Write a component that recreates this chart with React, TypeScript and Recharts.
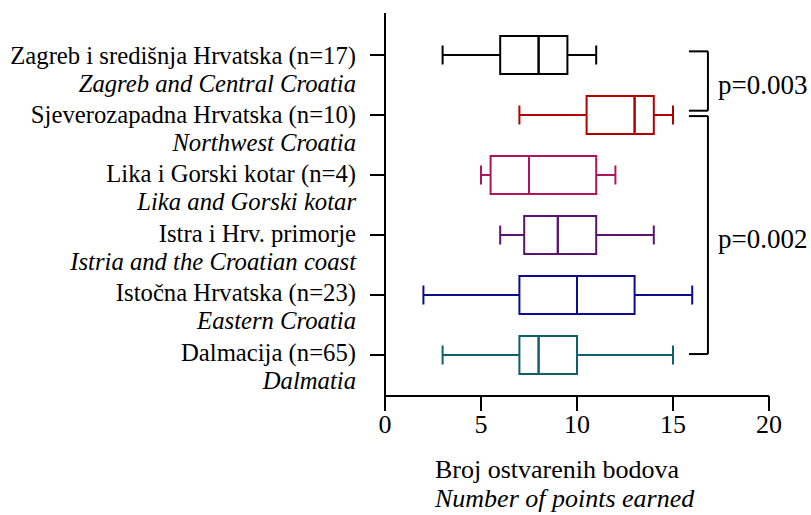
import { Bar, ComposedChart, ReferenceLine, XAxis, YAxis } from 'recharts';

const regions = [
  'Zagreb i središnja Hrvatska (n=17)',
  'Sjeverozapadna Hrvatska (n=10)',
  'Lika i Gorski kotar (n=4)',
  'Istra i Hrv. primorje',
  'Istočna Hrvatska (n=23)',
  'Dalmacija (n=65)',
];
const regionsEn = [
  'Zagreb and Central Croatia',
  'Northwest Croatia',
  'Lika and Gorski kotar',
  'Istria and the Croatian coast',
  'Eastern Croatia',
  'Dalmatia',
];
const mins = [3, 7, 5, 6, 2, 3];
const q1s = [6, 10.5, 5.5, 7.25, 7, 7];
const medians = [8, 13, 7.5, 9, 10, 8];
const q3s = [9.5, 14, 11, 11, 13, 10];
const maxs = [11, 15, 12, 14, 16, 15];
const colors = ['#000000', '#b30000', '#b0155c', '#5a1470', '#0c0c8c', '#0f5f6c'];
const xTicks = [0, 5, 10, 15, 20];

// brackets in data units (x, and y as row position 1..6), with p-value text
const brackets = [
  { x0: 15.83, x1: 16.82, y0: 0.94, y1: 1.93, p: 'p=0.003', py: 1.49 },
  { x0: 15.83, x1: 16.82, y0: 2.02, y1: 5.99, p: 'p=0.002', py: 4.07 },
];

const FONT = '"Liberation Serif", "Times New Roman", serif';

const rows = regions.map((label, i) => ({
  label,
  pos: i + 1,
  color: colors[i],
  base: mins[i],
  lw: q1s[i] - mins[i],
  b1: medians[i] - q1s[i],
  b2: q3s[i] - medians[i],
  rw: maxs[i] - q3s[i],
}));

const LeftWhisker = (props: any) => {
  const { x, y, width, height, payload } = props;
  const cy = y + height / 2;
  return (
    <g stroke={payload.color} strokeWidth={2}>
      <line x1={x} x2={x + width} y1={cy} y2={cy} />
      <line x1={x} x2={x} y1={cy - 9.5} y2={cy + 9.5} />
    </g>
  );
};

const RightWhisker = (props: any) => {
  const { x, y, width, height, payload } = props;
  const cy = y + height / 2;
  return (
    <g stroke={payload.color} strokeWidth={2}>
      <line x1={x} x2={x + width} y1={cy} y2={cy} />
      <line x1={x + width} x2={x + width} y1={cy - 9.5} y2={cy + 9.5} />
    </g>
  );
};

const BoxPart = (props: any) => {
  const { x, y, width, height, payload } = props;
  return <rect x={x} y={y} width={width} height={height} fill="none" stroke={payload.color} strokeWidth={2} />;
};

// the text block runs a little tighter than the ticks, so it drifts up row by row
const RegionTick = (props: any) => {
  const { x, y, payload, index } = props;
  const top = y + 8.5 - index * 0.6;
  return (
    <text x={x} y={top} textAnchor="end" fontFamily={FONT} fontSize={24.7} fill="#000">
      <tspan x={x}>{payload.value}</tspan>
      <tspan x={x} dy={28} fontStyle="italic">{regionsEn[index]}</tspan>
    </text>
  );
};

const AxisTitle = (props: any) => {
  const { viewBox } = props;
  const x = viewBox.x + 50;
  return (
    <text x={x} y={viewBox.y + 82} fontFamily={FONT} fontSize={26} fill="#000">
      <tspan x={x}>Broj ostvarenih bodova</tspan>
      <tspan x={x} dy={29} fontStyle="italic">Number of points earned</tspan>
    </text>
  );
};

export default function App() {
  return (
    <div style={{ position: 'absolute', left: 0, top: 0, background: '#fff' }}>
      <ComposedChart
        width={811}
        height={515}
        data={rows}
        layout="vertical"
        margin={{ top: 13, right: 42, bottom: 0, left: 0 }}
      >
        <XAxis
          type="number"
          domain={[0, 20]}
          ticks={xTicks}
          height={119}
          tickSize={15}
          tickMargin={4}
          axisLine={{ stroke: '#000', strokeWidth: 2 }}
          tickLine={{ stroke: '#000', strokeWidth: 2 }}
          tick={{ fill: '#000', fontSize: 26, fontFamily: FONT }}
          label={{ content: AxisTitle }}
        />
        <YAxis
          yAxisId="cat"
          type="category"
          dataKey="label"
          width={385}
          padding={{ top: 12, bottom: 11 }}
          tickSize={15}
          tickMargin={14}
          axisLine={{ stroke: '#000', strokeWidth: 2 }}
          tickLine={{ stroke: '#000', strokeWidth: 2 }}
          tick={RegionTick}
          interval={0}
        />
        <YAxis
          yAxisId="ann"
          type="number"
          dataKey="pos"
          orientation="right"
          domain={[0.3, 6.69]}
          allowDataOverflow
          hide
          width={0}
        />
        <Bar yAxisId="cat" dataKey="base" stackId="s" barSize={38} fill="none" isAnimationActive={false} />
        <Bar yAxisId="cat" dataKey="lw" stackId="s" barSize={38} shape={LeftWhisker} isAnimationActive={false} />
        <Bar yAxisId="cat" dataKey="b1" stackId="s" barSize={38} shape={BoxPart} isAnimationActive={false} />
        <Bar yAxisId="cat" dataKey="b2" stackId="s" barSize={38} shape={BoxPart} isAnimationActive={false} />
        <Bar yAxisId="cat" dataKey="rw" stackId="s" barSize={38} shape={RightWhisker} isAnimationActive={false} />
        {brackets.map((b, i) => [
          <ReferenceLine
            key={`t${i}`}
            yAxisId="ann"
            segment={[{ x: b.x0, y: b.y0 }, { x: b.x1, y: b.y0 }]}
            stroke="#000"
            strokeWidth={2}
          />,
          <ReferenceLine
            key={`v${i}`}
            yAxisId="ann"
            segment={[{ x: b.x1, y: b.y0 }, { x: b.x1, y: b.y1 }]}
            stroke="#000"
            strokeWidth={2}
          />,
          <ReferenceLine
            key={`b${i}`}
            yAxisId="ann"
            segment={[{ x: b.x0, y: b.y1 }, { x: b.x1, y: b.y1 }]}
            stroke="#000"
            strokeWidth={2}
          />,
          <ReferenceLine
            key={`p${i}`}
            yAxisId="ann"
            segment={[{ x: 17.35, y: b.py }, { x: 17.35, y: b.py }]}
            stroke="none"
            label={{
              content: (lp: any) => (
                <text x={lp.viewBox.x} y={lp.viewBox.y} dy="0.35em" fontFamily={FONT} fontSize={27} fill="#000">
                  {b.p}
                </text>
              ),
            }}
          />,
        ])}
      </ComposedChart>
    </div>
  );
}
